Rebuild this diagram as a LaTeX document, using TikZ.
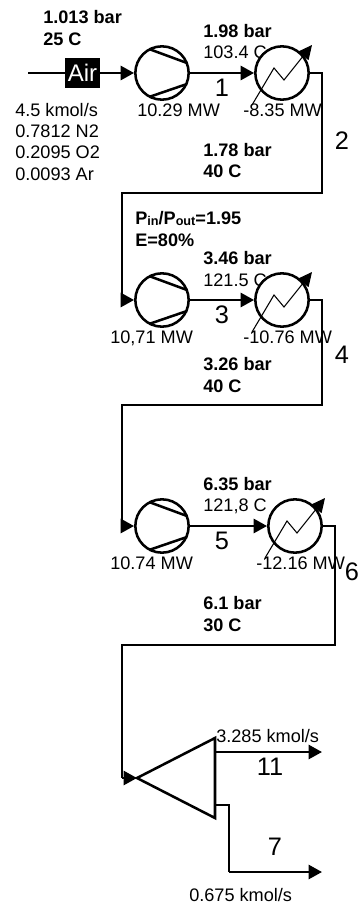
\documentclass[tikz,border=0pt]{standalone}
\usepackage{fontspec}
\setmainfont{Liberation Sans}
\usetikzlibrary{arrows.meta}
\tikzset{
  unit/.style={circle,draw,fill=white,line width=1.9pt,minimum size=40pt,inner sep=0pt},
  pipe/.style={line width=1.9pt},
  flow/.style={pipe,-{Triangle[length=10pt,width=10.5pt]}},
  val/.style={anchor=base west,inner sep=0pt,font=\fontsize{13.6}{16}\selectfont},
  hot/.style={val,font=\fontsize{13.6}{16}\selectfont\bfseries},
  num/.style={anchor=base,inner sep=0pt,font=\fontsize{19}{22}\selectfont}
}
\begin{document}
\begin{tikzpicture}[x=0.75pt,y=-0.75pt]
  \useasboundingbox (0,0) rectangle (360,909);
  % Stream conditions
  \foreach \n/\x/\y/\t in {a/43/24/{1.013 bar},b/43/46/{25 C},c/203/38/{1.98 bar},d/203/157/{1.78 bar},e/203/178/{40 C},
      f/203/264/{3.46 bar},g/203/370/{3.26 bar},h/203/392/{40 C},i/203/490/{6.35 bar},j/203/609/{6.1 bar},k/203/631/{30 C},
      l/135/246/{E=80\%}}
    \node[hot] (cond\n) at (\x,\y) {\t};
  \node[hot] (ratio) at (135,224) {P{\raisebox{-1pt}{\fontsize{9.5}{10}\selectfont in}}/P{\raisebox{-1pt}{\fontsize{9.5}{10}\selectfont out}}=1.95};
  % Plain labels
  \foreach \n/\x/\y/\t in {a/15/117/{4.5 kmol/s},b/15/138/{0.7812 N2},c/15/159/{0.2095 O2},d/15/181/{0.0093 Ar},
      e/203/59/{103.4 C},f/203/286/{121.5 C},g/203/511/{121,8 C},
      h/137/117/{10.29 MW},i/243/117/{-8.35 MW},j/110/343/{10,71 MW},k/243/343/{-10.76 MW},
      l/110/569/{10.74 MW},m/256/569/{-12.16 MW},n/216/742/{3.285 kmol/s},o/189/901/{0.675 kmol/s}}
    \node[val] (text\n) at (\x,\y) {\t};
  % Stream numbers
  \foreach \t/\x/\y in {1/222/97,2/342/150,3/222/323,4/342/363,5/222/549,6/352/580,11/270/775,7/275/855}
    \node[num] (stream\t) at (\x,\y) {\t};
  % Compressors
  \foreach \n/\y in {1/73,2/300,3/526} {
    \node[unit] (comp\n) at (162,\y) {};
    \draw[pipe] (149,\y-24) -- (187,\y-10);
    \draw[pipe] (149,\y+24) -- (187,\y+11);
  }
  % Coolers
  \foreach \n/\x/\y in {1/282/73,2/282/300,3/295/526} {
    \node[unit] (cool\n) at (\x,\y) {};
    \draw[line width=0.8pt,-{Triangle[length=10.5pt,width=10pt]}] (\x-30,\y+32) -- (\x-8,\y-5) -- (\x+2,\y+7) -- (\x+30,\y-28);
  }
  % Air inlet
  \coordinate (inlet) at (28,73);
  \node[fill=black,text=white,inner sep=0pt,minimum width=26pt,minimum height=23pt,font=\fontsize{18}{20}\selectfont] (air) at (82.5,73) {Air};
  \draw[pipe] (inlet) -- (air);
  \draw[flow] (air) -- (comp1);
  % Compressor to cooler
  \foreach \n in {1,2,3} \draw[flow] (comp\n) -- (cool\n);
  % Cooler to next stage
  \coordinate (bendA) at (322,73);
  \coordinate (bendB) at (322,193);
  \coordinate (bendC) at (122,193);
  \coordinate (bendD) at (122,300);
  \draw[pipe] (cool1) -- (bendA) -- (bendB) -- (bendC) -- (bendD);
  \draw[flow] (bendD) -- (comp2);
  \coordinate (bendE) at (322,300);
  \coordinate (bendF) at (322,405);
  \coordinate (bendG) at (122,405);
  \coordinate (bendH) at (122,526);
  \draw[pipe] (cool2) -- (bendE) -- (bendF) -- (bendG) -- (bendH);
  \draw[flow] (bendH) -- (comp3);
  % Splitter
  \coordinate (tip) at (137,778);
  \coordinate (top) at (215,738);
  \coordinate (bot) at (215,818);
  \draw[pipe,line join=miter] (tip) -- (top) -- (bot) -- cycle;
  \coordinate (bendI) at (335,526);
  \coordinate (bendJ) at (335,645);
  \coordinate (bendK) at (122,645);
  \coordinate (bendL) at (122,778);
  \draw[pipe] (cool3) -- (bendI) -- (bendJ) -- (bendK) -- (bendL);
  \draw[flow] (bendL) -- (tip);
  % Outlets
  \coordinate (portA) at (215,752);
  \coordinate (endA) at (322,752);
  \draw[flow] (portA) -- (endA);
  \coordinate (portB) at (215,805);
  \coordinate (bendM) at (229,805);
  \coordinate (bendN) at (229,872);
  \coordinate (endB) at (322,872);
  \draw[pipe] (portB) -- (bendM) -- (bendN);
  \draw[flow] (bendN) -- (endB);
\end{tikzpicture}
\end{document}
